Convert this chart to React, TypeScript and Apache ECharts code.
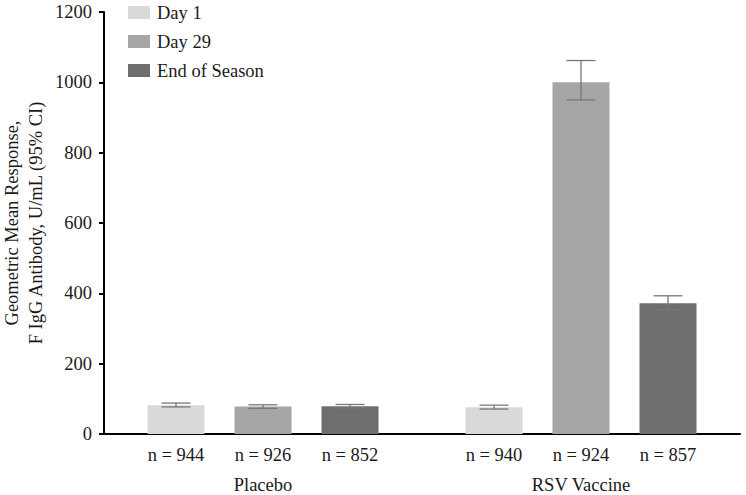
import React, { useEffect, useRef } from "react";
import * as echarts from "echarts";

const groups = ["Placebo", "RSV Vaccine"];
const seriesNames = ["Day 1", "Day 29", "End of Season"];
const means = [
  [82, 76],
  [78, 1000],
  [79, 372],
];
const ciLow = [
  [77, 71],
  [73, 950],
  [74, 352],
];
const ciHigh = [
  [88, 82],
  [83, 1062],
  [84, 393],
];
const nCounts = [
  [944, 940],
  [926, 924],
  [852, 857],
];
const yTicks = { min: 0, max: 1200, interval: 200 };

const colors = ["#d9d9d9", "#a6a6a6", "#6e6e6e"];
const FONT = "Liberation Serif";
const FS = 18.5;
const TXT = "#1a1a1a";
const BAR_W = 57;
const BAR_GAP = 30;

export default function App() {
  const ref = useRef<HTMLDivElement>(null);
  useEffect(() => {
    if (!ref.current) return;
    const chart = echarts.init(ref.current, null, { renderer: "svg" });
    const barSeries = seriesNames.map((name, si) => ({
      name,
      type: "bar",
      barWidth: BAR_W,
      barGap: `${(BAR_GAP / BAR_W) * 100}%`,
      itemStyle: { color: colors[si] },
      label: {
        show: true,
        position: "bottom",
        distance: 11,
        fontFamily: FONT,
        fontSize: FS,
        color: TXT,
        formatter: (p: any) => `n = ${nCounts[si][p.dataIndex]}`,
      },
      data: means[si],
      z: 2,
    }));
    const errSeries = seriesNames.map((name, si) => ({
      name: name + " CI",
      type: "custom",
      z: 5,
      renderItem: (params: any, api: any) => {
        const off = (si - 1) * (BAR_W + BAR_GAP);
        const lo = api.coord([api.value(0), api.value(1)]);
        const hi = api.coord([api.value(0), api.value(2)]);
        const x = lo[0] + off;
        const hw = 14.5;
        const style = { stroke: "#777777", lineWidth: 1.3 };
        return {
          type: "group",
          children: [
            { type: "line", shape: { x1: x, y1: lo[1], x2: x, y2: hi[1] }, style },
            { type: "line", shape: { x1: x - hw, y1: lo[1], x2: x + hw, y2: lo[1] }, style },
            { type: "line", shape: { x1: x - hw, y1: hi[1], x2: x + hw, y2: hi[1] }, style },
          ],
        };
      },
      data: groups.map((_, gi) => [gi, ciLow[si][gi], ciHigh[si][gi]]),
    }));
    chart.setOption({
      animation: false,
      textStyle: { fontFamily: FONT, fontSize: FS, color: TXT },
      grid: {
        left: 104,
        right: 6,
        top: 12,
        bottom: 61,
        containLabel: false,
        outerBoundsMode: "none",
      },
      legend: {
        data: seriesNames,
        orient: "vertical",
        left: 128,
        top: 3,
        padding: 0,
        itemWidth: 22,
        itemHeight: 13,
        itemGap: 10,
        icon: "rect",
        textStyle: { fontFamily: FONT, fontSize: FS, color: TXT, padding: [0, 0, 0, 2] },
      },
      xAxis: {
        type: "category",
        data: groups,
        axisLine: { lineStyle: { color: "#000", width: 2 } },
        axisTick: { alignWithLabel: true, length: 5, lineStyle: { color: "#000", width: 2 } },
        axisLabel: { margin: 41, fontFamily: FONT, fontSize: FS, color: TXT },
      },
      yAxis: {
        type: "value",
        min: yTicks.min,
        max: yTicks.max,
        interval: yTicks.interval,
        name: "Geometric Mean Response,\nF IgG Antibody, U/mL (95% CI)",
        nameLocation: "middle",
        nameGap: 56,
        nameMoveOverlap: false,
        nameTextStyle: { fontFamily: FONT, fontSize: FS, color: TXT, lineHeight: 24 },
        axisLine: { show: true, lineStyle: { color: "#000", width: 2 } },
        axisTick: { show: true, length: 5, lineStyle: { color: "#000", width: 2 } },
        axisLabel: {
          margin: 12,
          fontFamily: FONT,
          fontSize: FS,
          color: TXT,
          formatter: (v: number) => String(v),
        },
        splitLine: { show: false },
      },
      series: [...barSeries, ...errSeries],
    });
    return () => chart.dispose();
  }, []);
  return (
    <div
      ref={ref}
      style={{ position: "fixed", left: 0, top: 0, width: 746, height: 495, background: "#fff" }}
    />
  );
}
